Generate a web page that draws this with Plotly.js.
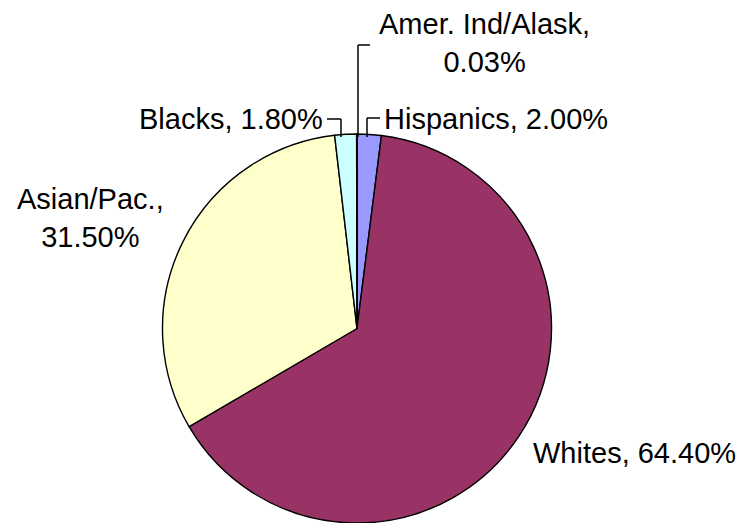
<!DOCTYPE html>
<html>
<head>
<meta charset="utf-8">
<script src="https://cdn.plot.ly/plotly-3.0.1.min.js"></script>
<style>html,body{margin:0;padding:0;background:#fff;}#chart{width:749px;height:523px;}</style>
</head>
<body>
<div id="chart"></div>
<script>
// Data (clockwise from 12 o'clock)
var groups = ["Hispanics", "Whites", "Asian/Pac.", "Blacks", "Amer. Ind/Alask"];
var shares = [2.00, 64.40, 31.50, 1.80, 0.03];
var sliceColors = ["#9999FF", "#993366", "#FFFFCC", "#CCFFFF", "#000000"];

var W = 749, H = 523;
function px(x){ return x / W; }
function py(y){ return 1 - y / H; }
function lbl(i, br){ return groups[i] + "," + (br ? "<br>" : " ") + shares[i].toFixed(2) + "%"; }

var font = {family: "Liberation Sans, Arial, sans-serif", size: 29, color: "#000"};

var data = [{
  type: "pie",
  labels: groups,
  values: shares,
  sort: false,
  direction: "clockwise",
  rotation: 0,
  marker: {colors: sliceColors, line: {color: "#000", width: 1.4}},
  textinfo: "none",
  hoverinfo: "label+percent",
  showlegend: false,
  domain: {x: [px(161), px(553)], y: [0, py(134)]}
}];

var annotations = [
  {x: px(484), y: py(43), text: lbl(4, true), xanchor: "center", yanchor: "middle", align: "center"},
  {x: px(382), y: py(119), text: lbl(0, false), xanchor: "left", yanchor: "middle", align: "left"},
  {x: px(325), y: py(119), text: lbl(3, false), xanchor: "right", yanchor: "middle", align: "right"},
  {x: px(90), y: py(218), text: lbl(2, true), xanchor: "center", yanchor: "middle", align: "center"},
  {x: px(531), y: py(453), text: lbl(1, false), xanchor: "left", yanchor: "middle", align: "left"}
].map(function(a){ a.xref = "paper"; a.yref = "paper"; a.showarrow = false; a.font = font; return a; });

function seg(x0, y0, x1, y1){
  return {type: "line", xref: "paper", yref: "paper", x0: px(x0), y0: py(y0), x1: px(x1), y1: py(y1),
          line: {color: "#000", width: 1.5}};
}
var shapes = [
  // Amer. Ind leader
  seg(370, 45, 358, 45), seg(358, 45, 358, 137),
  // Hispanics leader
  seg(380, 118, 367, 118), seg(367, 118, 367, 137),
  // Blacks leader
  seg(327, 119, 341, 119), seg(341, 119, 341, 137)
];

var layout = {
  width: W, height: H,
  margin: {l: 0, r: 0, t: 0, b: 0},
  paper_bgcolor: "#fff",
  plot_bgcolor: "#fff",
  showlegend: false,
  annotations: annotations,
  shapes: shapes
};

Plotly.newPlot("chart", data, layout, {displayModeBar: false, staticPlot: true});
</script>
</body>
</html>
